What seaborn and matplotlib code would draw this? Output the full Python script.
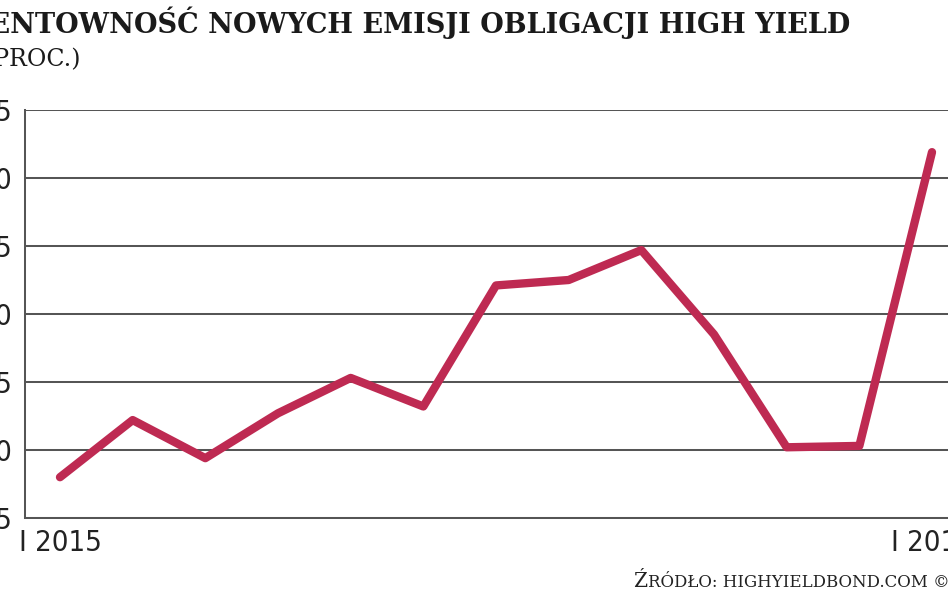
"""
Rentownosc nowych emisji obligacji high yield (I 2015 - I 2016).
"""
import pandas as pd
import matplotlib
matplotlib.use("Agg")
import matplotlib.pyplot as plt
from matplotlib import font_manager
import seaborn as sns

# Data
months = ["I 2015", "II", "III", "IV", "V", "VI", "VII",
          "VIII", "IX", "X", "XI", "XII", "I 2016"]
yields = [5.80, 6.22, 5.94, 6.27, 6.53, 6.32, 7.21,
          7.25, 7.47, 6.85, 6.02, 6.03, 8.19]
y_ticks = [5.5, 6.0, 6.5, 7.0, 7.5, 8.0, 8.5]
x_labels = {0: "I 2015", 12: "I 2016"}

title = "RENTOWNOŚĆ NOWYCH EMISJI OBLIGACJI HIGH YIELD"
subtitle = "(PROC.)"
source_first = "Ź"
source_rest = "RÓDŁO: HIGHYIELDBOND.COM ©"

sns.set_style("white")
plt.rcParams['font.family'] = ['DejaVu Sans']

LINE_COLOR = "#BE2A52"
GRID_COLOR = "#555555"
W, H = 948, 593


def pick_narrow_font():
    # the tick labels use a condensed sans; take one if the system has it
    for f in font_manager.fontManager.ttflist:
        name = f.name.lower()
        if ("narrow" in name or "condensed" in name or f.stretch == "condensed") \
                and f.weight in ("normal", "regular", 400) and f.style == "normal":
            return font_manager.FontProperties(fname=f.fname)
    return font_manager.FontProperties(family="Liberation Sans")


tick_font = pick_narrow_font()
narrow = tick_font.get_file() is not None
tick_size = 21 if narrow else 19

df = pd.DataFrame({"idx": range(len(months)), "month": months, "value": yields})

fig = plt.figure(figsize=(W / 100, H / 100), dpi=100)
ax = fig.add_axes([25 / W, 1 - 518 / H, 1 - 25 / W, (518 - 110) / H])

sns.lineplot(data=df, x="idx", y="value", ax=ax, color=LINE_COLOR,
             linewidth=6, solid_capstyle="round", solid_joinstyle="round",
             zorder=5)

# x-range so that I 2015 sits at px 60 and I 2016 at px 932
step = (932 - 60) / 12
ax.set_xlim(-(60 - 25) / step, 12 + (948 - 932) / step)
ax.set_ylim(y_ticks[0], y_ticks[-1])

ax.set_yticks(y_ticks)
ax.set_yticklabels([f"{v:.1f}".replace(".", ",") for v in y_ticks],
                   fontproperties=tick_font, fontsize=tick_size, color="#222222")
ax.set_xticks(list(x_labels.keys()))
ax.set_xticklabels(list(x_labels.values()),
                   fontproperties=tick_font, fontsize=tick_size, color="#222222")
ax.tick_params(axis="y", length=0, pad=9)
ax.tick_params(axis="x", length=0, pad=8)

ax.grid(axis="y", color=GRID_COLOR, linewidth=1.45)
ax.grid(axis="x", visible=False)
ax.set_axisbelow(True)
for side in ["top", "right"]:
    ax.spines[side].set_visible(False)
for side in ["left", "bottom"]:
    ax.spines[side].set_color(GRID_COLOR)
    ax.spines[side].set_linewidth(1.45)
ax.set_xlabel("")
ax.set_ylabel("")

# Title block (cropped on the left like the reference)
fig.text(850 / W, 1 - 33 / H, title, ha="right", va="baseline",
         family="DejaVu Serif", fontweight="bold", fontsize=19.5,
         color="#1a1a1a")
fig.text(81 / W, 1 - 66 / H, subtitle, ha="right", va="baseline",
         family="DejaVu Serif", fontsize=17, color="#1a1a1a")

# Source, imitation of small caps
src = fig.text(633 / W, 1 - 587 / H, source_first, ha="left", va="baseline",
               family="DejaVu Serif", fontsize=14.5, color="#222222")
ax.annotate(source_rest, xy=(1, 0), xycoords=src, xytext=(1, 0),
            textcoords="offset points", ha="left", va="bottom",
            family="DejaVu Serif", fontsize=12, color="#222222",
            annotation_clip=False)

fig.savefig("out.png", dpi=100)
